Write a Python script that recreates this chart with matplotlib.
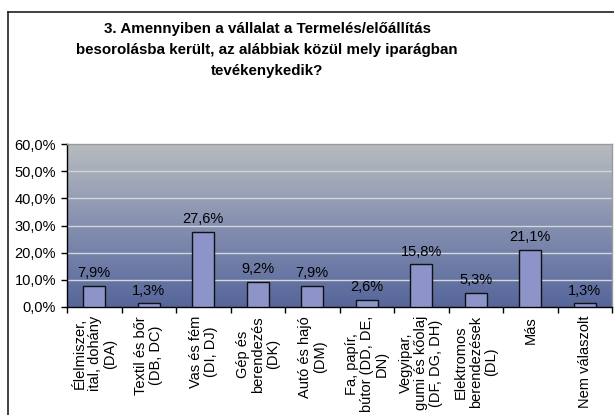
import numpy as np
import matplotlib.pyplot as plt
from matplotlib.lines import Line2D
from matplotlib.colors import LinearSegmentedColormap

plt.rcParams['font.family'] = ['Liberation Sans', 'DejaVu Sans']

title = ("3. Amennyiben a vállalat a Termelés/előállítás\n"
         "besorolásba került, az alábbiak közül mely iparágban\n"
         "tevékenykedik?")

categories = [
    "Élelmiszer,\nital, dohány\n(DA)",
    "Textil és bőr\n(DB, DC)",
    "Vas és fém\n(DI, DJ)",
    "Gép és\nberendezés\n(DK)",
    "Autó és hajó\n(DM)",
    "Fa, papír,\nbútor (DD, DE,\nDN)",
    "Vegyipar,\ngumi és kőolaj\n(DF, DG, DH)",
    "Elektromos\nberendezések\n(DL)",
    "Más",
    "Nem válaszolt",
]
values = [7.9, 1.3, 27.6, 9.2, 7.9, 2.6, 15.8, 5.3, 21.1, 1.3]
yticks = [0, 10, 20, 30, 40, 50, 60]

W, H = 614, 415
fig = plt.figure(figsize=(W / 100, H / 100), dpi=100)
fig.patch.set_facecolor('white')

# outer chart frame (right/bottom edges fall outside the picture)
fig.add_artist(Line2D([8 / W, 1.0], [1 - 12 / H, 1 - 12 / H], color='#202020', lw=1.2))
fig.add_artist(Line2D([8 / W, 8 / W], [1 - 12 / H, 0.0], color='#202020', lw=1.2))

fig.text(267 / W, 1 - 50 / H, title, ha='center', va='center', fontsize=10.9,
         fontweight='bold', linespacing=1.6)

ax = fig.add_axes([67 / W, 1 - 307 / H, (612 - 67) / W, (307 - 144) / H])
n = len(values)
x = np.arange(n)
ax.set_xlim(-0.5, n - 0.5)
ax.set_ylim(0, 60)

# gradient background
cmap = LinearSegmentedColormap.from_list('bg', ['#56669b', '#8590b0', '#b8bcbf'])
grad = np.linspace(0, 1, 256).reshape(-1, 1)
ax.imshow(grad, cmap=cmap, aspect='auto', origin='lower',
          extent=[-0.5, n - 0.5, 0, 60], zorder=0)

for t in yticks[1:-1]:
    ax.axhline(t, color='#d4d6da', lw=1, zorder=1)

ax.bar(x, values, width=0.4, color='#8c94c9', edgecolor='#111111', lw=1, zorder=3)
for xi, v in zip(x, values):
    ax.annotate(f"{v:.1f}%".replace('.', ','), (xi, v), xytext=(0, 4),
                textcoords='offset points', ha='center', va='bottom', fontsize=10.5)

ax.set_yticks(yticks)
ax.set_yticklabels([f"{t:.1f}%".replace('.', ',') for t in yticks], fontsize=10.5)
ax.set_xticks(np.arange(n + 1) - 0.5)
ax.set_xticklabels([])
ax.tick_params(axis='y', length=4, width=1, pad=4, color='black')
ax.tick_params(axis='x', length=4, width=1, color='black')

for xi, lab in zip(x, categories):
    ax.text(xi, -3.3, lab, rotation=90, ha='center', va='top', fontsize=10.5,
            multialignment='center', linespacing=1.1)

for s in ['left', 'bottom']:
    ax.spines[s].set_color('black')
    ax.spines[s].set_linewidth(1)
for s in ['top', 'right']:
    ax.spines[s].set_color('#9a9a9a')
    ax.spines[s].set_linewidth(1)

fig.savefig('out.png', dpi=100)
